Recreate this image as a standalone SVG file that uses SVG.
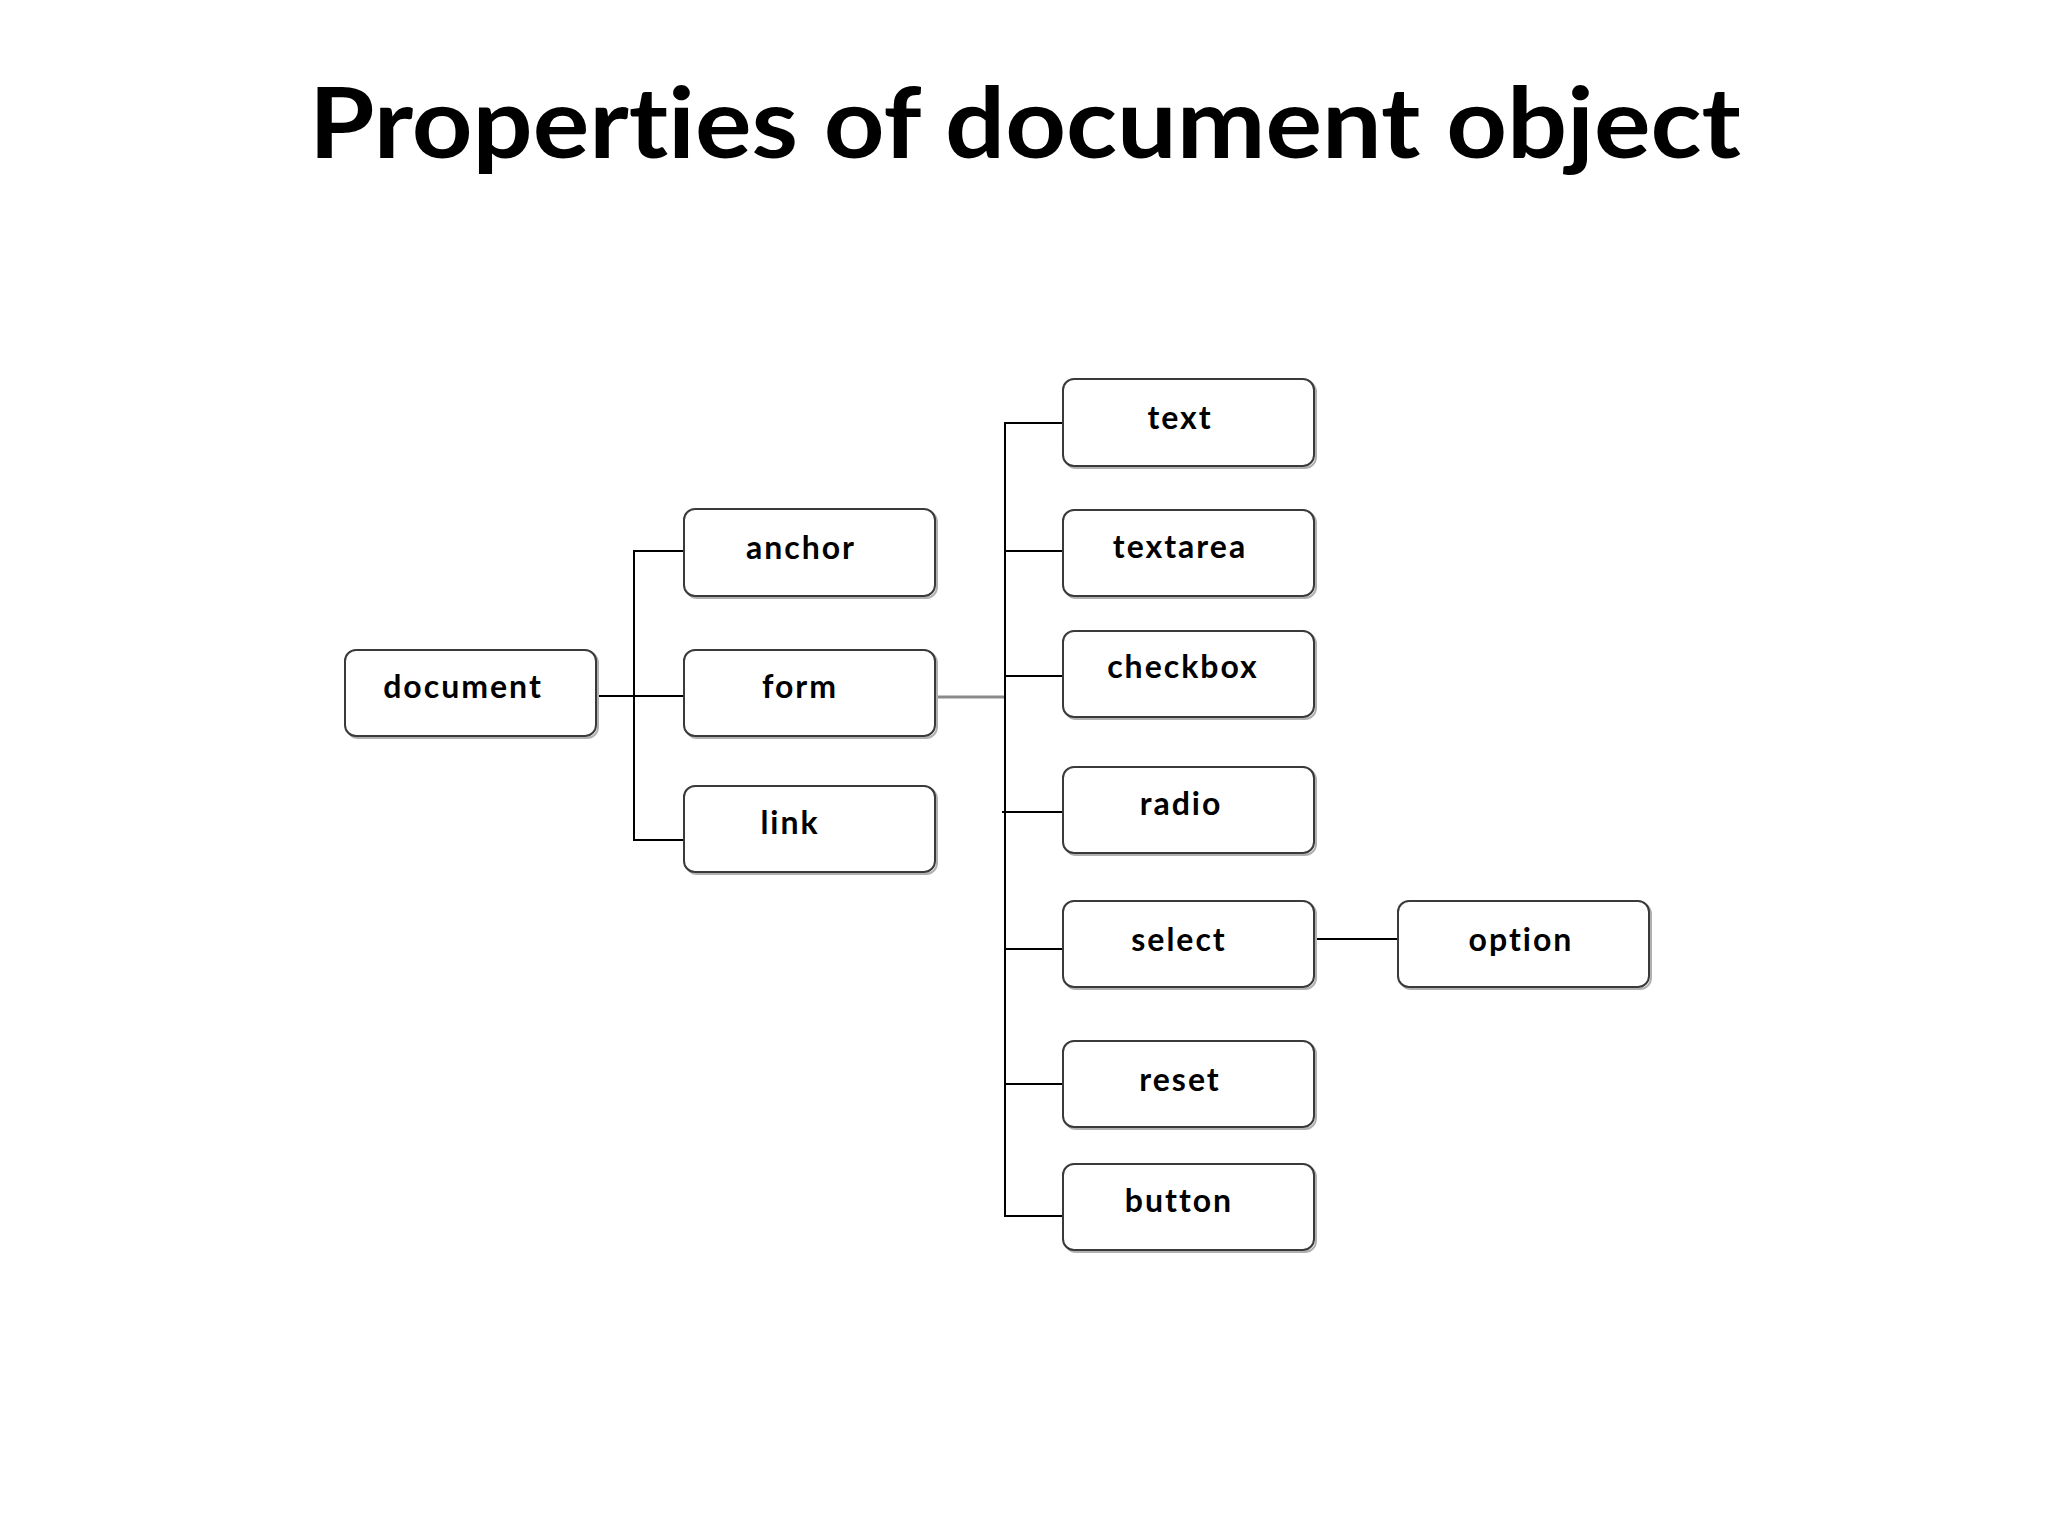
<svg xmlns="http://www.w3.org/2000/svg" width="2048" height="1536" viewBox="0 0 2048 1536">
<style>
.box{fill:#ffffff;stroke:#3a3a3a;stroke-width:2}
.shadow{fill:none;stroke:#b0b0b0;stroke-width:2}
.lbl{font-family:Lato,"Open Sans","Liberation Sans",sans-serif;font-weight:bold;font-size:32px;letter-spacing:2px;fill:#000;text-anchor:middle;font-variant-ligatures:none;font-feature-settings:"liga" 0}
.title{font-family:Lato,"Open Sans","Liberation Sans",sans-serif;font-weight:bold;font-size:97px;fill:#000;font-variant-ligatures:none;font-feature-settings:"liga" 0}
.ln{stroke:#000;stroke-width:2;fill:none}
.ln2{stroke:#8a8a8a;stroke-width:3;fill:none}
</style>
<rect width="2048" height="1536" fill="#ffffff"/>
<text class="title" x="309" y="158" textLength="1432" lengthAdjust="spacingAndGlyphs">Properties of document object</text>
<g id="connectors">
<polyline class="ln" points="684,551 634,551 634,840 684,840"/>
<line class="ln" x1="596" y1="696" x2="684" y2="696"/>
<line class="ln2" x1="935" y1="697" x2="1005" y2="697"/>
<polyline class="ln" points="1063,423 1005,423 1005,1216 1063,1216"/>
<line class="ln" x1="1005" y1="551" x2="1063" y2="551"/>
<line class="ln" x1="1005" y1="676" x2="1063" y2="676"/>
<line class="ln" x1="1002" y1="812" x2="1063" y2="812"/>
<line class="ln" x1="1005" y1="949" x2="1063" y2="949"/>
<line class="ln" x1="1005" y1="1084" x2="1063" y2="1084"/>
<line class="ln" x1="1315" y1="939" x2="1398" y2="939"/>
</g>
<g id="document"><rect class="shadow" x="347" y="652" width="251" height="86" rx="11"/><rect class="box" x="345" y="650" width="251" height="86" rx="11"/><text class="lbl" x="463" y="698">document</text></g>
<g id="anchor"><rect class="shadow" x="686" y="511" width="251" height="87" rx="11"/><rect class="box" x="684" y="509" width="251" height="87" rx="11"/><text class="lbl" x="801" y="559">anchor</text></g>
<g id="form"><rect class="shadow" x="686" y="652" width="251" height="86" rx="11"/><rect class="box" x="684" y="650" width="251" height="86" rx="11"/><text class="lbl" x="800" y="698">form</text></g>
<g id="link"><rect class="shadow" x="686" y="788" width="251" height="86" rx="11"/><rect class="box" x="684" y="786" width="251" height="86" rx="11"/><text class="lbl" x="790" y="834">link</text></g>
<g id="text"><rect class="shadow" x="1065" y="381" width="251" height="87" rx="11"/><rect class="box" x="1063" y="379" width="251" height="87" rx="11"/><text class="lbl" x="1180" y="429">text</text></g>
<g id="textarea"><rect class="shadow" x="1065" y="512" width="251" height="86" rx="11"/><rect class="box" x="1063" y="510" width="251" height="86" rx="11"/><text class="lbl" x="1180" y="558">textarea</text></g>
<g id="checkbox"><rect class="shadow" x="1065" y="633" width="251" height="86" rx="11"/><rect class="box" x="1063" y="631" width="251" height="86" rx="11"/><text class="lbl" x="1183" y="678">checkbox</text></g>
<g id="radio"><rect class="shadow" x="1065" y="769" width="251" height="86" rx="11"/><rect class="box" x="1063" y="767" width="251" height="86" rx="11"/><text class="lbl" x="1181" y="815">radio</text></g>
<g id="select"><rect class="shadow" x="1065" y="903" width="251" height="86" rx="11"/><rect class="box" x="1063" y="901" width="251" height="86" rx="11"/><text class="lbl" x="1179" y="951">select</text></g>
<g id="option"><rect class="shadow" x="1400" y="903" width="251" height="86" rx="11"/><rect class="box" x="1398" y="901" width="251" height="86" rx="11"/><text class="lbl" x="1521" y="951">option</text></g>
<g id="reset"><rect class="shadow" x="1065" y="1043" width="251" height="86" rx="11"/><rect class="box" x="1063" y="1041" width="251" height="86" rx="11"/><text class="lbl" x="1180" y="1091">reset</text></g>
<g id="button"><rect class="shadow" x="1065" y="1166" width="251" height="86" rx="11"/><rect class="box" x="1063" y="1164" width="251" height="86" rx="11"/><text class="lbl" x="1179" y="1212">button</text></g>
</svg>
